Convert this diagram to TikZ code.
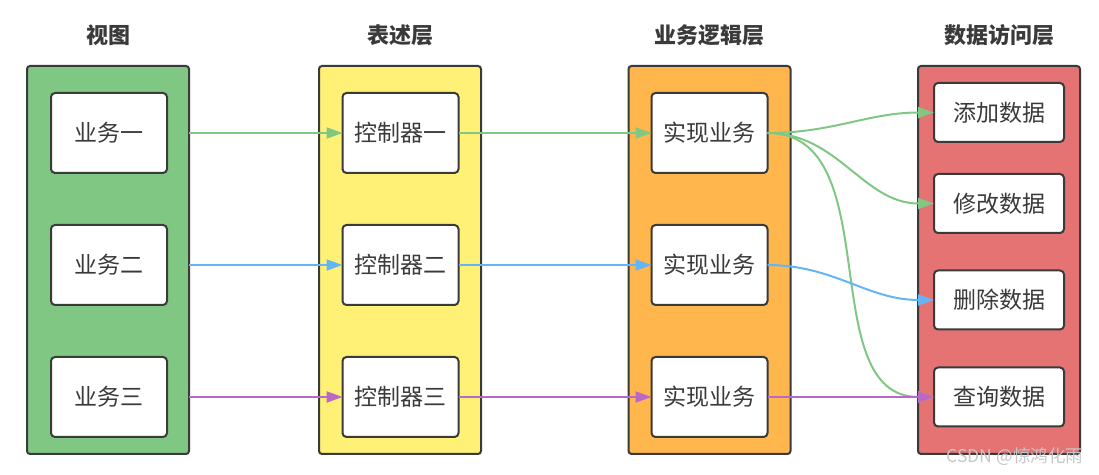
\documentclass[tikz,border=0pt]{standalone}
\usepackage{fontspec}
\setmainfont{Noto Sans CJK SC}
\usepackage{tikz}
\usetikzlibrary{arrows.meta,positioning}
\definecolor{viewgreen}{HTML}{81C784}
\definecolor{ctrlyellow}{HTML}{FFF176}
\definecolor{logicorange}{HTML}{FFB74D}
\definecolor{datared}{HTML}{E57373}
\definecolor{flowblue}{HTML}{64B5F6}
\definecolor{flowpurple}{HTML}{BA68C8}
\definecolor{boxline}{HTML}{3A3A3A}
\definecolor{textgray}{HTML}{3A3A3A}
\tikzset{
	layer/.style={draw=boxline,fill=#1,line width=1pt,rounded corners=1.5pt,
		minimum width=81pt,minimum height=194pt,outer sep=0pt},
	item/.style={draw=boxline,fill=white,line width=1pt,rounded corners=2pt,
		minimum width=58pt,minimum height=40pt,outer sep=0pt,text=textgray,
		font=\fontsize{11.5}{13}\selectfont},
	dataitem/.style={item,minimum width=65pt,minimum height=29.5pt},
	layer title/.style={text=textgray,font=\bfseries\fontsize{11}{13}\selectfont},
	flow/.style={draw=#1,line width=1pt,-{Triangle[length=8pt,width=5.5pt]}}
}

\begin{document}
\begin{tikzpicture}[x=0.5pt,y=-0.5pt]
  \useasboundingbox (0,0) rectangle (1099,475);
  % layers
  \node [layer=viewgreen] (view) at (108,260) {};
  \node [layer=ctrlyellow] (ctrl) at (400,260) {};
  \node [layer=logicorange] (logic) at (709.5,260) {};
  \node [layer=datared] (data) at (999,260) {};
  \node [layer title] (viewT) at (108,35) {视图};
  \node [layer title] (ctrlT) at (400,35) {表述层};
  \node [layer title] (logicT) at (709.5,35) {业务逻辑层};
  \node [layer title] (dataT) at (999,35) {数据访问层};
  % boxes
  \node [item] (v1) at (109,133) {业务一};
  \node [item] (v2) at (109,265) {业务二};
  \node [item] (v3) at (109,397) {业务三};
  \node [item] (c1) at (400.5,133) {控制器一};
  \node [item] (c2) at (400.5,265) {控制器二};
  \node [item] (c3) at (400.5,397) {控制器三};
  \node [item] (b1) at (709.5,133) {实现业务};
  \node [item] (b2) at (709.5,265) {实现业务};
  \node [item] (b3) at (709.5,397) {实现业务};
  \node [dataitem] (d1) at (999,112.5) {添加数据};
  \node [dataitem] (d2) at (999,203.5) {修改数据};
  \node [dataitem] (d3) at (999,300) {删除数据};
  \node [dataitem] (d4) at (999,397) {查询数据};
  % flows
  \draw [flow=viewgreen] (view.east |- v1) -- (c1);
  \draw [flow=flowblue] (view.east |- v2) -- (c2);
  \draw [flow=flowpurple] (view.east |- v3) -- (c3);
  \draw [flow=viewgreen] (c1) -- (b1);
  \draw [flow=flowblue] (c2) -- (b2);
  \draw [flow=flowpurple] (c3) -- (b3);
  \draw [flow=viewgreen] (b1) to[out=0,in=180] (d1);
  \draw [flow=viewgreen] (b1) to[out=0,in=180] (d2);
  \draw [flow=viewgreen] (b1) to[out=0,in=180] (d4);
  \draw [flow=flowblue] (b2) to[out=0,in=180] (d3);
  \draw [flow=flowpurple] (b3) -- (d4);
  \node [text=gray!45,font=\fontsize{8.8}{10}\selectfont] (mark) at (1015,457) {CSDN @惊鸿化雨};
\end{tikzpicture}
\end{document}
